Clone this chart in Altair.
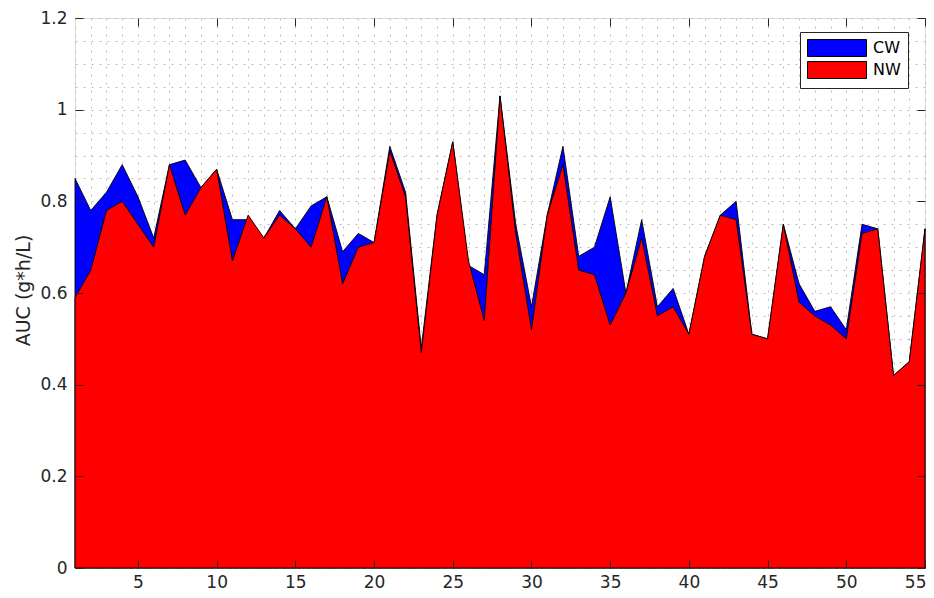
import altair as alt
import pandas as pd

# Sample index (x)
sample = list(range(1, 56))

# AUC (g*h/L) per sample
cw = [0.85, 0.78, 0.82, 0.88, 0.81, 0.72, 0.88, 0.89, 0.83, 0.87,
      0.76, 0.76, 0.72, 0.78, 0.74, 0.79, 0.81, 0.69, 0.73, 0.71,
      0.92, 0.82, 0.48, 0.77, 0.93, 0.66, 0.64, 1.03, 0.75, 0.57,
      0.77, 0.92, 0.68, 0.70, 0.81, 0.60, 0.76, 0.57, 0.61, 0.51,
      0.68, 0.77, 0.80, 0.51, 0.50, 0.75, 0.62, 0.56, 0.57, 0.52,
      0.75, 0.74, 0.42, 0.45, 0.74]
nw = [0.59, 0.65, 0.78, 0.80, 0.75, 0.70, 0.88, 0.77, 0.83, 0.87,
      0.67, 0.77, 0.72, 0.77, 0.74, 0.70, 0.81, 0.62, 0.70, 0.71,
      0.91, 0.81, 0.47, 0.77, 0.93, 0.67, 0.54, 1.03, 0.73, 0.52,
      0.77, 0.88, 0.65, 0.64, 0.53, 0.60, 0.72, 0.55, 0.57, 0.51,
      0.68, 0.77, 0.76, 0.51, 0.50, 0.75, 0.58, 0.55, 0.53, 0.50,
      0.73, 0.74, 0.42, 0.45, 0.74]

series_names = ["CW", "NW"]
series_colors = ["#0000ff", "#ff0000"]

x_ticks = [5, 10, 15, 20, 25, 30, 35, 40, 45, 50, 55]
y_ticks = [0, 0.2, 0.4, 0.6, 0.8, 1.0, 1.2]
x_grid = list(range(1, 56))
y_grid = [round(0.05 * i, 2) for i in range(25)]

df = pd.DataFrame({
    "x": sample * 2,
    "series": ["CW"] * len(cw) + ["NW"] * len(nw),
    "value": cw + nw,
})

FONT = "DejaVu Sans"
TXT = "#262626"

xscale = alt.Scale(domain=[1, 55], nice=False, zero=False)
yscale = alt.Scale(domain=[0, 1.2], nice=False)
cscale = alt.Scale(domain=series_names, range=series_colors)

legend = alt.Legend(
    title=None, orient="none", legendX=725, legendY=14,
    symbolType="M-1,-1H5.94V1H-1Z", symbolSize=289,
    symbolStrokeColor="black", symbolStrokeWidth=1, symbolOpacity=1,
    labelFont=FONT, labelFontSize=16, labelColor="black", labelOffset=48,
    strokeColor=TXT, fillColor="white", padding=7, rowPadding=0,
)

grid_common = dict(grid=True, labels=False, ticks=False, domain=False, title=None,
                   gridDash=[2, 6], gridColor="#bdbdbd", gridWidth=1, zindex=0)

tick_in = alt.ExprRef(expr="-8")

base = alt.Chart(df)

cw_layer = base.transform_filter(alt.datum.series == "CW").mark_area(
    opacity=1, stroke="black", strokeWidth=0.9
).encode(
    x=alt.X("x:Q", scale=xscale, axis=alt.Axis(orient="bottom", values=x_grid, **grid_common)),
    y=alt.Y("value:Q", scale=yscale, axis=alt.Axis(orient="left", values=y_grid, **grid_common)),
    color=alt.Color("series:N", scale=cscale, legend=legend),
)

nw_layer = base.transform_filter(alt.datum.series == "NW").mark_area(
    opacity=1, stroke="black", strokeWidth=0.9
).encode(
    x=alt.X("x:Q", scale=xscale, axis=alt.Axis(
        orient="bottom", values=x_ticks, grid=False, domain=False, title=None,
        tickSize=tick_in, tickColor=TXT, tickWidth=1, labelPadding=14,
        labelFont=FONT, labelFontSize=17, labelColor=TXT, labelFlush=True,
        labelFlushOffset=1, labelOverlap=False, zindex=1)),
    y=alt.Y("value:Q", scale=yscale, axis=alt.Axis(
        orient="left", values=y_ticks, grid=False, domain=False,
        title="AUC (g*h/L)", titleFont=FONT, titleFontSize=19, titleFontWeight="normal",
        titleColor=TXT, titleX=-52, titleY=272, titleAngle=270, titleAlign="center",
        titleBaseline="middle",
        tickSize=tick_in, tickColor=TXT, tickWidth=1, labelPadding=16,
        labelExpr="toString(round(datum.value*10)/10)",
        labelFont=FONT, labelFontSize=17, labelColor=TXT, labelFlush=False,
        labelOverlap=False, zindex=1)),
    color=alt.Color("series:N", scale=cscale, legend=legend),
)

frame_layer = base.transform_filter(alt.datum.series == "NW").mark_point(opacity=0).encode(
    x=alt.X("x:Q", scale=xscale, axis=alt.Axis(
        orient="top", values=x_ticks, grid=False, domain=False, labels=False, title=None,
        tickSize=tick_in, tickColor=TXT, tickWidth=1, zindex=1)),
    y=alt.Y("value:Q", scale=yscale, axis=alt.Axis(
        orient="right", values=y_ticks, grid=False, domain=False, labels=False, title=None,
        tickSize=tick_in, tickColor=TXT, tickWidth=1, zindex=1)),
)

chart = alt.layer(cw_layer, nw_layer, frame_layer).resolve_axis(
    x="independent", y="independent"
).properties(
    width=850, height=550,
    autosize=alt.AutoSizeParams(type="none"),
    padding={"left": 67, "top": 10, "right": 1, "bottom": 22},
).configure_view(
    stroke=TXT, strokeWidth=1
).configure(background="white")

chart.save("out.html", embed_options={"renderer": "svg", "actions": False})
